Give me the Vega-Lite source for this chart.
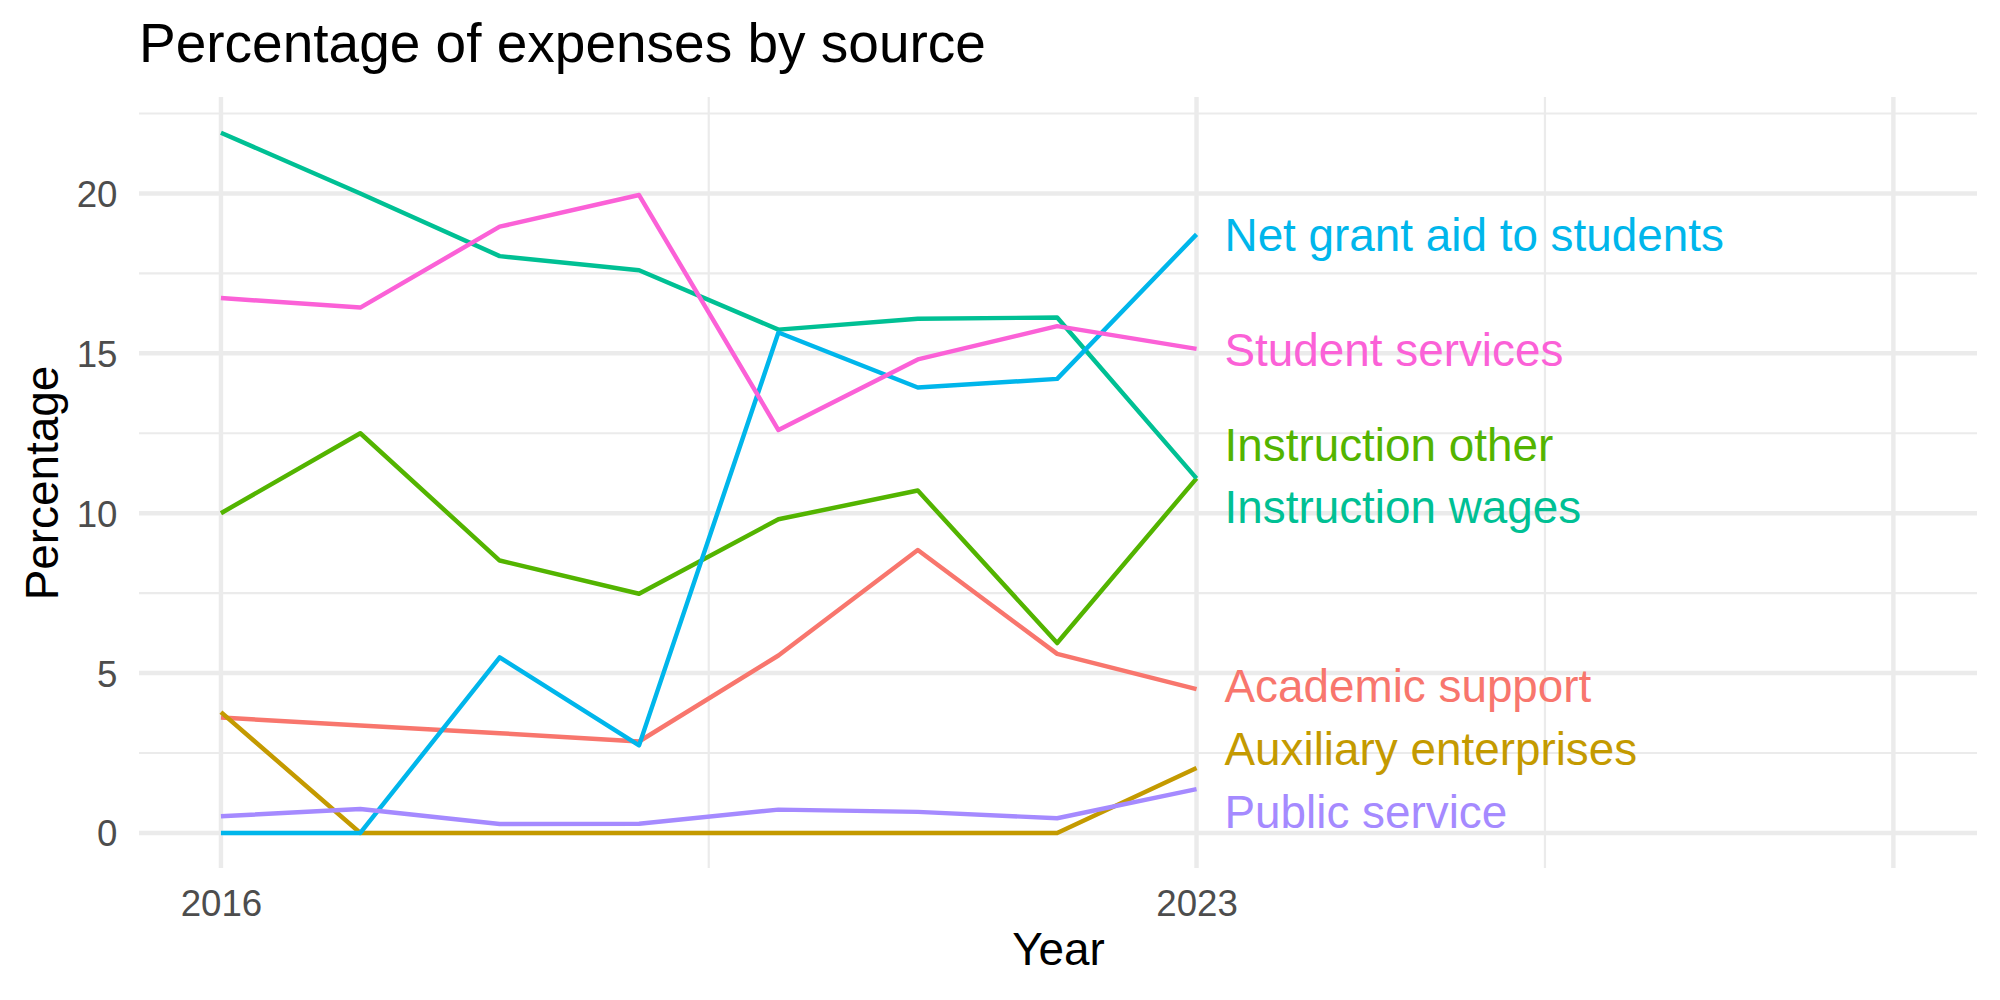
{
  "$schema": "https://vega.github.io/schema/vega-lite/v6.json",
  "width": 1838,
  "height": 771,
  "autosize": {"type": "none"},
  "padding": {"left": 139, "top": 97, "right": 23, "bottom": 132},
  "background": "white",
  "title": {
    "text": "Percentage of expenses by source",
    "anchor": "start",
    "frame": "group",
    "font": "Liberation Sans",
    "fontSize": 55,
    "fontWeight": "normal",
    "color": "#000000",
    "baseline": "bottom",
    "offset": 23,
    "dy": 57
  },
  "config": {
    "view": {"stroke": null},
    "font": "Liberation Sans",
    "axis": {
      "grid": false,
      "domain": false,
      "ticks": false,
      "tickSize": 0,
      "labelFont": "Liberation Sans",
      "labelFontSize": 36.67,
      "labelColor": "#4D4D4D",
      "titleFont": "Liberation Sans",
      "titleFontSize": 45.83,
      "titleFontWeight": "normal",
      "titleColor": "#000000"
    }
  },
  "datasets": {
    "expenses": [
      {"year": 2016, "source": "Academic support", "pct": 3.61},
      {"year": 2017, "source": "Academic support", "pct": 3.36},
      {"year": 2018, "source": "Academic support", "pct": 3.12},
      {"year": 2019, "source": "Academic support", "pct": 2.86},
      {"year": 2020, "source": "Academic support", "pct": 5.55},
      {"year": 2021, "source": "Academic support", "pct": 8.85},
      {"year": 2022, "source": "Academic support", "pct": 5.6},
      {"year": 2023, "source": "Academic support", "pct": 4.5},
      {"year": 2016, "source": "Auxiliary enterprises", "pct": 3.78},
      {"year": 2017, "source": "Auxiliary enterprises", "pct": 0},
      {"year": 2018, "source": "Auxiliary enterprises", "pct": 0},
      {"year": 2019, "source": "Auxiliary enterprises", "pct": 0},
      {"year": 2020, "source": "Auxiliary enterprises", "pct": 0},
      {"year": 2021, "source": "Auxiliary enterprises", "pct": 0},
      {"year": 2022, "source": "Auxiliary enterprises", "pct": 0},
      {"year": 2023, "source": "Auxiliary enterprises", "pct": 2.03},
      {"year": 2016, "source": "Instruction other", "pct": 10.0},
      {"year": 2017, "source": "Instruction other", "pct": 12.5},
      {"year": 2018, "source": "Instruction other", "pct": 8.52},
      {"year": 2019, "source": "Instruction other", "pct": 7.48},
      {"year": 2020, "source": "Instruction other", "pct": 9.81},
      {"year": 2021, "source": "Instruction other", "pct": 10.71},
      {"year": 2022, "source": "Instruction other", "pct": 5.94},
      {"year": 2023, "source": "Instruction other", "pct": 11.09},
      {"year": 2016, "source": "Instruction wages", "pct": 21.9},
      {"year": 2017, "source": "Instruction wages", "pct": 20.0},
      {"year": 2018, "source": "Instruction wages", "pct": 18.04},
      {"year": 2019, "source": "Instruction wages", "pct": 17.6},
      {"year": 2020, "source": "Instruction wages", "pct": 15.74},
      {"year": 2021, "source": "Instruction wages", "pct": 16.08},
      {"year": 2022, "source": "Instruction wages", "pct": 16.12},
      {"year": 2023, "source": "Instruction wages", "pct": 11.09},
      {"year": 2016, "source": "Net grant aid to students", "pct": 0},
      {"year": 2017, "source": "Net grant aid to students", "pct": 0},
      {"year": 2018, "source": "Net grant aid to students", "pct": 5.49},
      {"year": 2019, "source": "Net grant aid to students", "pct": 2.74},
      {"year": 2020, "source": "Net grant aid to students", "pct": 15.65},
      {"year": 2021, "source": "Net grant aid to students", "pct": 13.93},
      {"year": 2022, "source": "Net grant aid to students", "pct": 14.2},
      {"year": 2023, "source": "Net grant aid to students", "pct": 18.72},
      {"year": 2016, "source": "Public service", "pct": 0.52},
      {"year": 2017, "source": "Public service", "pct": 0.75},
      {"year": 2018, "source": "Public service", "pct": 0.28},
      {"year": 2019, "source": "Public service", "pct": 0.29},
      {"year": 2020, "source": "Public service", "pct": 0.73},
      {"year": 2021, "source": "Public service", "pct": 0.66},
      {"year": 2022, "source": "Public service", "pct": 0.46},
      {"year": 2023, "source": "Public service", "pct": 1.37},
      {"year": 2016, "source": "Student services", "pct": 16.73},
      {"year": 2017, "source": "Student services", "pct": 16.43},
      {"year": 2018, "source": "Student services", "pct": 18.96},
      {"year": 2019, "source": "Student services", "pct": 19.95},
      {"year": 2020, "source": "Student services", "pct": 12.6},
      {"year": 2021, "source": "Student services", "pct": 14.81},
      {"year": 2022, "source": "Student services", "pct": 15.85},
      {"year": 2023, "source": "Student services", "pct": 15.14}
    ],
    "end_labels": [
      {"year": 2023, "source": "Net grant aid to students", "label_pct": 18.72},
      {"year": 2023, "source": "Student services", "label_pct": 15.14},
      {"year": 2023, "source": "Instruction other", "label_pct": 12.17},
      {"year": 2023, "source": "Instruction wages", "label_pct": 10.21},
      {"year": 2023, "source": "Academic support", "label_pct": 4.63},
      {"year": 2023, "source": "Auxiliary enterprises", "label_pct": 2.65},
      {"year": 2023, "source": "Public service", "label_pct": 0.69}
    ],
    "x_major": [{"year": 2016}, {"year": 2023}, {"year": 2028}],
    "x_minor": [{"year": 2019.5}, {"year": 2025.5}],
    "y_major": [{"pct": 0}, {"pct": 5}, {"pct": 10}, {"pct": 15}, {"pct": 20}],
    "y_minor": [{"pct": 2.5}, {"pct": 7.5}, {"pct": 12.5}, {"pct": 17.5}, {"pct": 22.5}]
  },
  "layer": [
    {
      "data": {"name": "y_minor"},
      "mark": {"type": "rule", "color": "#EBEBEB", "strokeWidth": 2.2},
      "encoding": {
        "y": {"field": "pct", "type": "quantitative", "scale": {"domain": [-1.096, 23.016], "nice": false, "zero": false}}
      }
    },
    {
      "data": {"name": "x_minor"},
      "mark": {"type": "rule", "color": "#EBEBEB", "strokeWidth": 2.2},
      "encoding": {
        "x": {"field": "year", "type": "quantitative", "scale": {"domain": [2015.412, 2028.6], "nice": false, "zero": false}}
      }
    },
    {
      "data": {"name": "y_major"},
      "mark": {"type": "rule", "color": "#EBEBEB", "strokeWidth": 4.45},
      "encoding": {
        "y": {"field": "pct", "type": "quantitative"}
      }
    },
    {
      "data": {"name": "x_major"},
      "mark": {"type": "rule", "color": "#EBEBEB", "strokeWidth": 4.45},
      "encoding": {
        "x": {"field": "year", "type": "quantitative"}
      }
    },
    {
      "data": {"name": "expenses"},
      "mark": {"type": "line", "strokeWidth": 4.45, "strokeJoin": "round", "strokeCap": "butt"},
      "encoding": {
        "x": {
          "field": "year",
          "type": "quantitative",
          "axis": {
            "values": [2016, 2023],
            "format": "d",
            "labelPadding": 18,
            "labelBaseline": "top",
            "title": "Year",
            "titlePadding": 6
          }
        },
        "y": {
          "field": "pct",
          "type": "quantitative",
          "axis": {
            "values": [0, 5, 10, 15, 20],
            "labelPadding": 22,
            "labelOffset": 2,
            "title": "Percentage",
            "titlePadding": 9
          }
        },
        "color": {
          "field": "source",
          "type": "nominal",
          "legend": null,
          "scale": {
            "domain": ["Academic support", "Auxiliary enterprises", "Instruction other", "Instruction wages", "Net grant aid to students", "Public service", "Student services"],
            "range": ["#F8766D", "#C49A00", "#53B400", "#00C094", "#00B6EB", "#A58AFF", "#FB61D7"]
          }
        }
      }
    },
    {
      "data": {"name": "end_labels"},
      "mark": {"type": "text", "align": "left", "baseline": "middle", "dx": 28, "dy": 3, "font": "Liberation Sans", "fontSize": 45.83},
      "encoding": {
        "x": {"field": "year", "type": "quantitative"},
        "y": {"field": "label_pct", "type": "quantitative"},
        "text": {"field": "source", "type": "nominal"},
        "color": {"field": "source", "type": "nominal", "legend": null}
      }
    }
  ]
}
